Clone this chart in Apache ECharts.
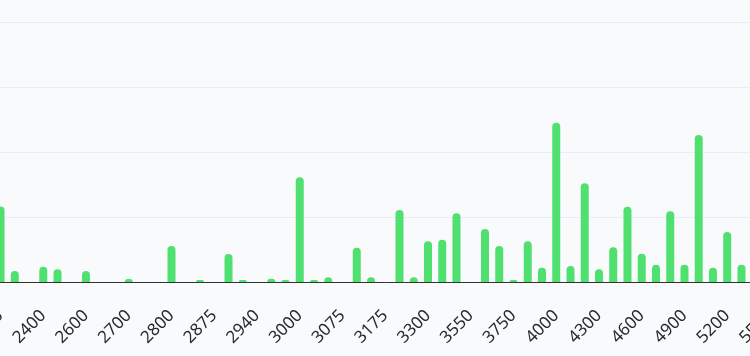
<!DOCTYPE html>
<html>
<head>
<meta charset="utf-8">
<script src="https://cdn.jsdelivr.net/npm/echarts@6/dist/echarts.min.js"></script>
<style>
html,body{margin:0;padding:0;background:#f8fafc;overflow:hidden;width:750px;height:356px;position:relative;}
#chart{position:absolute;left:-50px;top:0;width:850px;height:356px;}
</style>
</head>
<body>
<div id="chart"></div>
<script>
const categories = ["2300","2325","2350","2400","2450","2500","2600","2625","2650","2700","2725","2750","2800","2825","2850","2875","2900","2920","2940","2960","2980","3000","3025","3050","3075","3100","3150","3175","3200","3250","3300","3400","3500","3550","3600","3700","3750","3800","3900","4000","4100","4200","4300","4400","4500","4600","4700","4800","4900","5000","5100","5200","5300","5400","5500"];
const values = [5.8,0.85,0,1.18,0.98,0,0.85,0,0,0.23,0,0,2.77,0,0.15,0,2.15,0.15,0,0.25,0.15,8.05,0.15,0.36,0,2.64,0.36,0,5.54,0.36,3.13,3.25,5.28,0,4.08,2.77,0.15,3.13,1.1,12.25,1.23,7.59,0.98,2.67,5.79,2.18,1.33,5.44,1.33,11.31,1.1,3.85,1.33,0,0];
const yMax = 20;
const yInterval = 5;

const chart = echarts.init(document.getElementById('chart'));
chart.setOption({
  backgroundColor: '#f8fafc',
  animation: false,
  grid: { left: 43.4, right: 22.9, top: 22, bottom: 74, containLabel: false },
  xAxis: {
    type: 'category',
    data: categories,
    axisLine: { lineStyle: { color: '#333', width: 1 } },
    axisTick: { show: false },
    axisLabel: {
      interval: 2,
      rotate: 45,
      margin: 31,
      fontSize: 17,
      fontFamily: 'Noto Sans',
      color: '#2a2a2a'
    }
  },
  yAxis: {
    type: 'value',
    min: 0,
    max: yMax,
    interval: yInterval,
    axisLabel: { show: false },
    axisLine: { show: false },
    axisTick: { show: false },
    splitLine: { lineStyle: { color: '#e6eef8', width: 1 } }
  },
  series: [{
    type: 'bar',
    data: values,
    barWidth: 8,
    itemStyle: { color: '#50e070', borderRadius: [4, 4, 0, 0] }
  }]
});
</script>
</body>
</html>
